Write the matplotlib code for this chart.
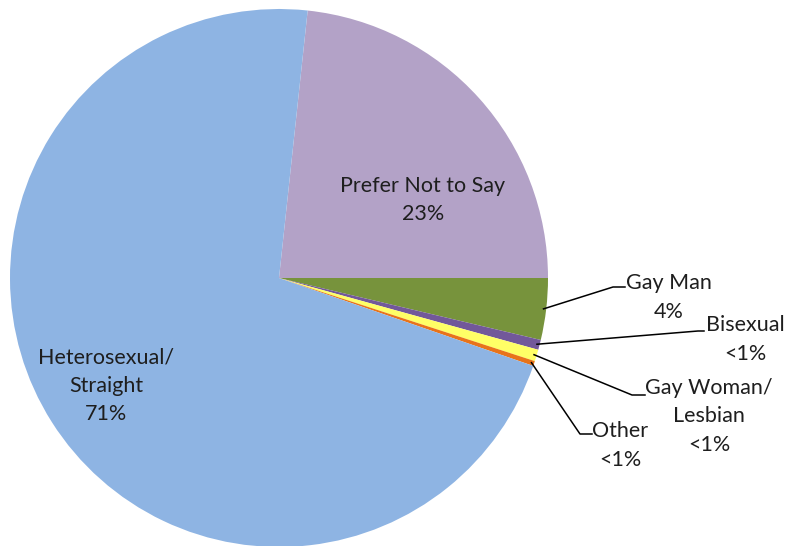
import matplotlib
matplotlib.use('Agg')
import matplotlib.pyplot as plt
import numpy as np

plt.rcParams['font.family'] = ['Lato', 'DejaVu Sans']

# survey answers, in clockwise order starting from the "Prefer Not to Say" slice
labels  = ['Prefer Not to Say', 'Gay Man', 'Bisexual', 'Gay Woman/\nLesbian', 'Other', 'Heterosexual/\nStraight']
values  = [23.3, 3.7, 0.6, 0.7, 0.3, 71.4]
pct_txt = ['23%', '4%', '<1%', '<1%', '<1%', '71%']
colors  = ['#B3A2C7', '#77933C', '#72589A', '#FFFF66', '#E8731A', '#8EB4E3']

W, H = 787, 546
CX, CY, R = 279, 278, 269     # pie centre and radius in pixels
STEP = 28.5                   # line pitch of the labels, pixels

def px(x, y):
   # pixel position (from top-left) -> data units of the pie
   return (x - CX) / R, (CY - y) / R

fig = plt.figure(figsize=(W/100, H/100), dpi=100)
ax = fig.add_axes([0, 0, 1, 1])

start = values[0]*3.6
wedges, _ = ax.pie(values, colors=colors, startangle=start, counterclock=False,
                   radius=1, center=(0, 0), frame=True,
                   wedgeprops=dict(linewidth=0))
ax.set_xlim(-CX/R, (W - CX)/R)
ax.set_ylim(-(H - CY)/R, CY/R)
ax.axis('off')

txtcol = '#1e1e1e'
fs = 15.5

def put_label(i, x, y_first):
   # one text per line so the stacked labels keep their own boxes
   lines = labels[i].split('\n') + [pct_txt[i]]
   for k, s in enumerate(lines):
      tx, ty = px(x, y_first + k*STEP)
      ax.text(tx, ty, s, ha='center', va='center', fontsize=fs, color=txtcol)

# labels inside the two big slices
put_label(0, 423, 186)
put_label(5, 106, 357)

# small slices get leader lines: elbow point, line end, label centre x, first line y
outside = {
   1: ((613, 287), (625, 287), 669, 283),
   2: ((698, 331), (704, 331), 745, 325),
   3: ((632, 395), (645, 395), 709, 388),
   4: ((580, 434), (592, 434), 620, 431),
}
for i, (elbow, end, lx, ly) in outside.items():
   w = wedges[i]
   mid = np.deg2rad((w.theta1 + w.theta2)/2)
   x0, y0 = np.cos(mid)*0.99, np.sin(mid)*0.99
   ex, ey = px(*elbow)
   nx, ny = px(*end)
   ax.plot([x0, ex, nx], [y0, ey, ny], color='black', lw=1.1)
   put_label(i, lx, ly)

fig.savefig('out.png', dpi=100)
